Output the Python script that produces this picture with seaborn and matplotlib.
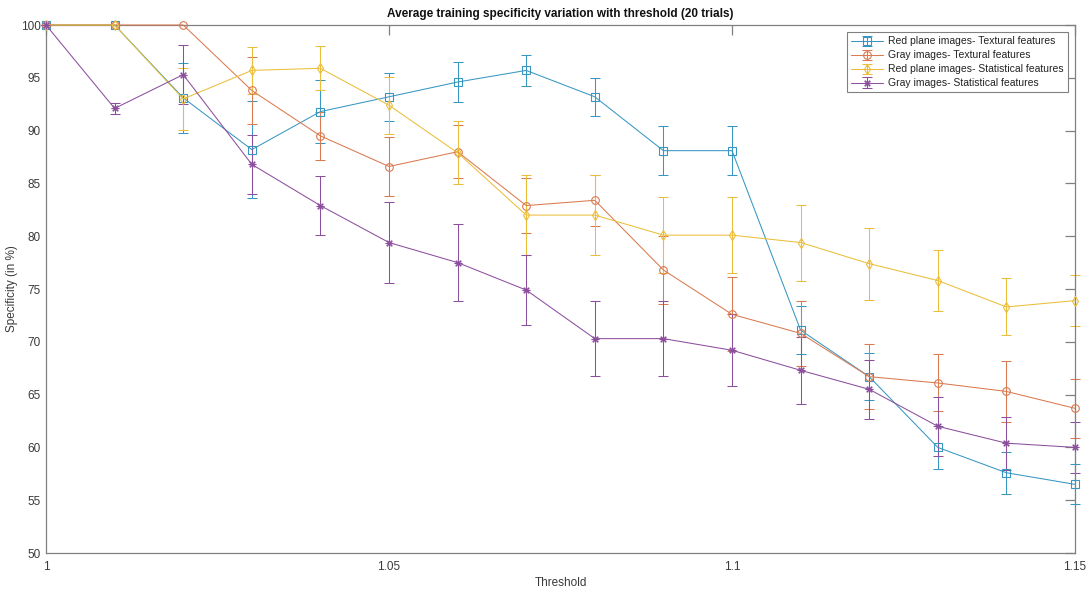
import numpy as np
import pandas as pd
import seaborn as sns
import matplotlib
matplotlib.use("Agg")
import matplotlib.pyplot as plt
from matplotlib.lines import Line2D
from matplotlib.collections import LineCollection
from matplotlib.container import ErrorbarContainer

# ---------------- data ----------------
thresholds = [1.00, 1.01, 1.02, 1.03, 1.04, 1.05, 1.06, 1.07,
              1.08, 1.09, 1.10, 1.11, 1.12, 1.13, 1.14, 1.15]

series_names = ["Red plane images- Textural features",
                "Gray images- Textural features",
                "Red plane images- Statistical features",
                "Gray images- Statistical features"]

red_textural = [100, 100, 93.1, 88.2, 91.8, 93.2, 94.6, 95.7,
                93.2, 88.1, 88.1, 71.1, 66.7, 60.0, 57.6, 56.5]
red_textural_err = [0, 0, 3.3, 4.6, 3.0, 2.3, 1.9, 1.5,
                    1.8, 2.3, 2.3, 2.3, 2.2, 2.0, 2.0, 1.9]

gray_textural = [100, 100, 100, 93.8, 89.5, 86.6, 88.0, 82.9,
                 83.4, 76.8, 72.6, 70.8, 66.7, 66.1, 65.3, 63.7]
gray_textural_err = [0, 0, 0, 3.2, 2.3, 2.8, 2.5, 2.6,
                     2.4, 3.2, 3.5, 3.1, 3.1, 2.7, 2.9, 2.8]

red_statistical = [100, 100, 93.0, 95.7, 95.9, 92.4, 87.9, 82.0,
                   82.0, 80.1, 80.1, 79.4, 77.4, 75.8, 73.3, 73.9]
red_statistical_err = [0, 0, 2.9, 2.2, 2.1, 2.7, 3.0, 3.8,
                       3.8, 3.6, 3.6, 3.6, 3.4, 2.9, 2.7, 2.4]

gray_statistical = [100, 92.1, 95.3, 86.8, 82.9, 79.4, 77.5, 74.9,
                    70.3, 70.3, 69.2, 67.3, 65.5, 62.0, 60.4, 60.0]
gray_statistical_err = [0, 0.55, 2.8, 2.8, 2.8, 3.8, 3.65, 3.35,
                        3.55, 3.55, 3.4, 3.2, 2.8, 2.8, 2.5, 2.4]

xtick_values = [1.0, 1.05, 1.1, 1.15]
xtick_labels = ["1", "1.05", "1.1", "1.15"]
ytick_values = [50, 55, 60, 65, 70, 75, 80, 85, 90, 95, 100]

title = "Average training specificity variation with threshold (20 trials)"
xlabel = "Threshold"
ylabel = "Specificity (in %)"

# ---------------- style ----------------
colors = ["#3797C2", "#D97A50", "#EBBE3A", "#8C4F9E"]
markers = ["s", "o", "d", (8, 2, 0)]
lw = 0.75

sns.set_theme(style="white")
plt.rcParams["font.family"] = ["Liberation Sans", "DejaVu Sans"]

values = [red_textural, gray_textural, red_statistical, gray_statistical]
errors = [red_textural_err, gray_textural_err, red_statistical_err, gray_statistical_err]

df = pd.concat([
    pd.DataFrame({"Threshold": thresholds, "Specificity": v, "Error": e, "Series": n})
    for v, e, n in zip(values, errors, series_names)
], ignore_index=True)

fig = plt.figure(figsize=(10.9, 5.9), dpi=100)
ax = fig.add_axes([46 / 1090, 1 - 553 / 590, (1075 - 46) / 1090, (553 - 25) / 590])

spine_color = "#808080"
handles = []
for name, c, m in zip(series_names, colors, markers):
    sub = df[df["Series"] == name]
    sns.lineplot(data=sub, x="Threshold", y="Specificity", color=c, marker=m,
                 linewidth=lw, markersize=5.5, markerfacecolor="none",
                 markeredgecolor=c, markeredgewidth=0.8, ax=ax,
                 clip_on=False, zorder=3, legend=False)
    ax.errorbar(sub["Threshold"], sub["Specificity"], yerr=sub["Error"], fmt="none",
                ecolor=c, elinewidth=lw, capsize=3.5, capthick=lw,
                clip_on=False, zorder=2)
    # legend proxy (line + marker + error bar)
    line = Line2D([], [], color=c, marker=m, markerfacecolor="none",
                  markeredgecolor=c, markeredgewidth=0.8, markersize=5.5, linewidth=lw)
    cap = Line2D([], [], color=c, marker="_", markersize=7, markeredgewidth=lw,
                 linestyle="none")
    bar = LineCollection([], colors=c, linewidths=lw)
    handles.append(ErrorbarContainer((line, (cap, cap), (bar,)),
                                     has_xerr=False, has_yerr=True, label=name))

ax.set_xlim(1.0, 1.15)
ax.set_ylim(50, 100)
ax.set_xticks(xtick_values, labels=xtick_labels)
ax.set_yticks(ytick_values)

for s in ax.spines.values():
    s.set_visible(True)
    s.set_color(spine_color)
    s.set_linewidth(0.9)

ax.tick_params(axis="both", direction="in", length=7, width=0.9, color=spine_color,
               top=True, right=True, labelsize=8.5, labelcolor="#3a3a3a")
ax.tick_params(axis="x", pad=6)
ax.tick_params(axis="y", pad=4)

ax.set_title(title, fontsize=8.5, fontweight="bold", color="#111111", pad=6)
ax.set_xlabel(xlabel, fontsize=8.5, color="#3a3a3a", labelpad=2.5)
ax.set_ylabel(ylabel, fontsize=8.5, color="#3a3a3a", labelpad=2)

leg = ax.legend(handles=handles, labels=series_names, loc="upper right",
                fontsize=7.5, frameon=True, fancybox=False, edgecolor=spine_color,
                framealpha=1, borderaxespad=0.7, handlelength=3.0,
                labelspacing=0.38, borderpad=0.4, handletextpad=0.5)
leg.get_frame().set_linewidth(0.8)
for t in leg.get_texts():
    t.set_color("#222222")

fig.savefig("out.png", dpi=100)
